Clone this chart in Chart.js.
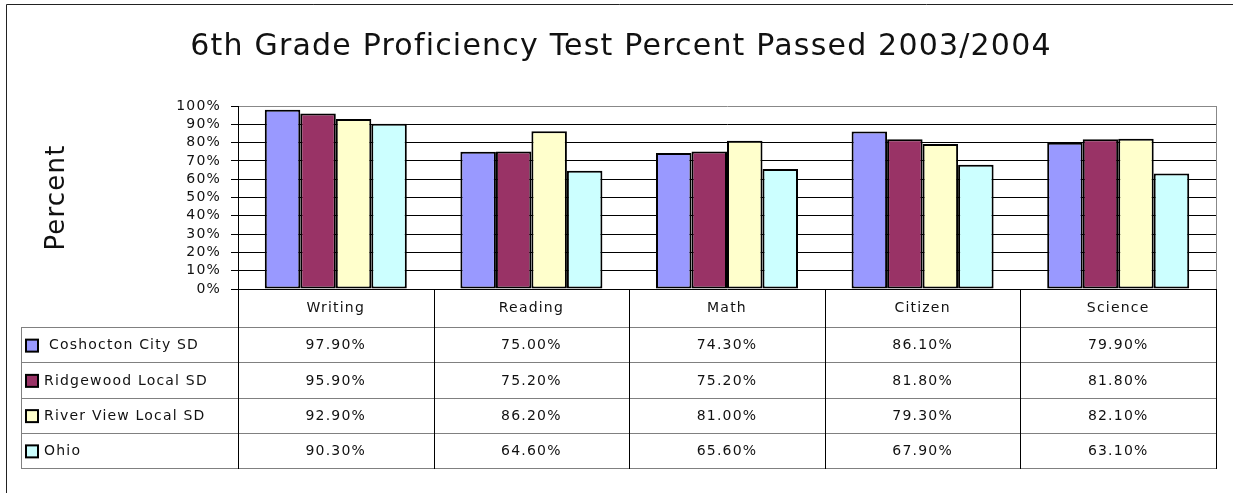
<!DOCTYPE html>
<html>
<head>
<meta charset="utf-8">
<script src="https://cdn.jsdelivr.net/npm/chart.js@4"></script>
<style>
  body { margin: 0; background: #fff; }
  #wrap { width: 1233px; height: 493px; }
</style>
</head>
<body>
<div id="wrap"><canvas id="gradeChart" width="1233" height="493"></canvas></div>
<script>
const chartTitle = '6th Grade Proficiency Test Percent Passed 2003/2004';
const subjects = ['Writing', 'Reading', 'Math', 'Citizen', 'Science'];
const coshocton = [97.9, 75.0, 74.3, 86.1, 79.9];
const ridgewood = [95.9, 75.2, 75.2, 81.8, 81.8];
const riverView = [92.9, 86.2, 81.0, 79.3, 82.1];
const ohio = [90.3, 64.6, 65.6, 67.9, 63.1];

const FONT = '"DejaVu Sans", sans-serif';
const TEXT = '#111';

// letter spacing for all canvas text (the original font is widely spaced)
const spacing = {
  id: 'spacing',
  beforeDraw(chart) {
    chart.ctx.letterSpacing = '1.2px';
  }
};

// title, frame, plot border and the data table under the bars
const dataTable = {
  id: 'dataTable',
  afterDraw(chart) {
    const ctx = chart.ctx;
    const area = chart.chartArea;
    const x = chart.scales.x;
    const cw = x.getPixelForValue(1) - x.getPixelForValue(0);
    const bounds = subjects.map((_, i) => x.getPixelForValue(i) - cw / 2);
    bounds.push(x.getPixelForValue(subjects.length - 1) + cw / 2);

    const headerBottom = 327;
    const rowH = 35.25;
    const tableLeft = 21;
    const rows = chart.data.datasets.length;
    const tableBottom = headerBottom + rows * rowH;

    ctx.save();
    ctx.lineWidth = 1;

    // title
    ctx.fillStyle = TEXT;
    ctx.font = '30px ' + FONT;
    ctx.textAlign = 'left';
    ctx.textBaseline = 'alphabetic';
    const tw = ctx.measureText(chartTitle).width;
    ctx.fillText(chartTitle, 621 - tw / 2, 55);

    // outer frame
    ctx.strokeStyle = '#222';
    ctx.beginPath();
    ctx.moveTo(6.5, 493);
    ctx.lineTo(6.5, 4.5);
    ctx.lineTo(1233, 4.5);
    ctx.stroke();

    // plot area right border
    ctx.strokeStyle = '#888';
    ctx.beginPath();
    ctx.moveTo(Math.round(area.right) + 0.5, area.top);
    ctx.lineTo(Math.round(area.right) + 0.5, area.bottom);
    ctx.stroke();

    // table lines
    ctx.strokeStyle = '#808080';
    ctx.beginPath();
    for (let r = 0; r <= rows; r++) {
      const y = Math.round(headerBottom + r * rowH) + 0.5;
      ctx.moveTo(tableLeft, y);
      ctx.lineTo(Math.round(area.right) + 1, y);
    }
    ctx.moveTo(tableLeft + 0.5, headerBottom);
    ctx.lineTo(tableLeft + 0.5, Math.round(tableBottom) + 1);
    ctx.stroke();

    ctx.strokeStyle = '#000';
    ctx.beginPath();
    bounds.forEach(b => {
      const bx = Math.round(b) + 0.5;
      ctx.moveTo(bx, area.bottom);
      ctx.lineTo(bx, Math.round(tableBottom) + 1);
    });
    ctx.stroke();

    // header labels
    ctx.fillStyle = TEXT;
    ctx.font = '14px ' + FONT;
    ctx.textAlign = 'center';
    ctx.textBaseline = 'middle';
    subjects.forEach((s, i) => {
      ctx.fillText(s, x.getPixelForValue(i), (area.bottom + headerBottom) / 2);
    });

    // rows
    chart.data.datasets.forEach((ds, r) => {
      const cy = headerBottom + r * rowH + rowH / 2 + 1;
      ctx.fillStyle = ds.backgroundColor;
      ctx.fillRect(26, cy - 6, 12, 12);
      ctx.strokeStyle = '#000';
      ctx.lineWidth = 2;
      ctx.strokeRect(26, cy - 6, 12, 12);
      ctx.lineWidth = 1;

      ctx.fillStyle = TEXT;
      ctx.textAlign = 'left';
      ctx.fillText(ds.label, r === 0 ? 49 : 44, cy);
      ctx.textAlign = 'center';
      ds.data.forEach((v, i) => {
        ctx.fillText(v.toFixed(2) + '%', x.getPixelForValue(i), cy);
      });
    });
    ctx.restore();
  }
};

const barStyle = {
  borderColor: '#000',
  borderWidth: 2,
  borderSkipped: false,
  categoryPercentage: 0.726,
  barPercentage: 1.0
};

new Chart(document.getElementById('gradeChart'), {
  type: 'bar',
  data: {
    labels: subjects,
    datasets: [
      { label: 'Coshocton City SD', data: coshocton, backgroundColor: '#9999FF', ...barStyle },
      { label: 'Ridgewood Local SD', data: ridgewood, backgroundColor: '#993366', ...barStyle },
      { label: 'River View Local SD', data: riverView, backgroundColor: '#FFFFCC', ...barStyle },
      { label: 'Ohio', data: ohio, backgroundColor: '#CCFFFF', ...barStyle }
    ]
  },
  options: {
    responsive: false,
    animation: false,
    layout: {
      padding: { left: 0, right: 17, top: 106, bottom: 204 }
    },
    scales: {
      x: {
        display: false
      },
      y: {
        min: 0,
        max: 100,
        afterFit(scale) {
          scale.width = 238;
        },
        ticks: {
          stepSize: 10,
          autoSkip: false,
          color: TEXT,
          padding: 10,
          font: { family: FONT, size: 14 },
          callback: v => v + '%'
        },
        grid: {
          color: c => (c.tick && c.tick.value === 100 ? '#888' : '#000'),
          tickColor: '#000',
          tickLength: 7,
          lineWidth: 1
        },
        border: { display: true, color: '#000', width: 1 },
        title: {
          display: true,
          text: 'Percent',
          color: TEXT,
          font: { family: FONT, size: 26 },
          padding: { top: 42, bottom: 0 }
        }
      }
    },
    plugins: {
      legend: { display: false },
      tooltip: { enabled: false },
      title: { display: false }
    }
  },
  plugins: [spacing, dataTable]
});
</script>
</body>
</html>
